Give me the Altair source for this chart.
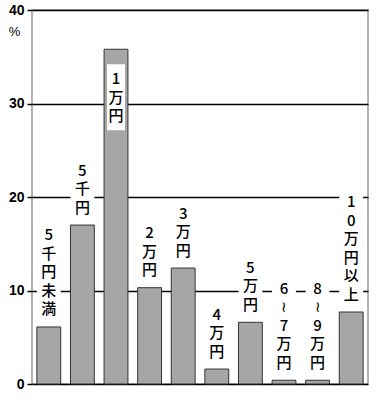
import altair as alt
import pandas as pd

categories = ["5千円未満", "5千円", "1万円", "2万円", "3万円", "4万円", "5万円", "6～7万円", "8～9万円", "10万円以上"]
values = [6.1, 17.0, 35.8, 10.3, 12.4, 1.6, 6.6, 0.4, 0.4, 7.7]
y_ticks = [0, 10, 20, 30, 40]
unit_label = "%"

df = pd.DataFrame({"cat": categories, "value": values})

JP_FONT = "Noto Sans CJK JP"

x_enc = alt.X("cat:N", sort=categories, axis=None,
              scale=alt.Scale(paddingInner=0.29, paddingOuter=0.145))
y_enc = alt.Y("value:Q",
              scale=alt.Scale(domain=[0, 40], nice=False, zero=True),
              axis=alt.Axis(values=y_ticks, grid=True, gridColor="#000", gridWidth=1.5,
                            domain=False, ticks=True, tickColor="#000", tickSize=5, tickWidth=1.5,
                            labelFont="Liberation Sans", labelFontSize=14, labelFontWeight="bold",
                            labelPadding=3, labelColor="#000",
                            title=unit_label, titleAngle=0, titleX=-18, titleY=21,
                            titleAlign="center", titleBaseline="middle",
                            titleFont="Liberation Sans", titleFontSize=13,
                            titleFontWeight="normal", titleColor="#000"))

base = alt.Chart(df).transform_calculate(
    lines="split(replace(datum.cat, '～', '≀'), '')",
    n="length(replace(datum.cat, '～', '≀'))",
    inside="datum.value > 30",
)

bars = base.mark_bar(color="#a6a6a6", stroke="#333", strokeWidth=1).encode(x=x_enc, y=y_enc)

layers = [bars]

LH = 18.5
# labels above bars: white box + stacked characters, one layer pair per label length
for n in sorted(set(len(c) for c in categories)):
    sub = base.transform_filter(f"!datum.inside && datum.n == {n}")
    box = sub.mark_bar(
        color="white", yOffset=-(8 + n * LH + 3), y2Offset=-5
    ).encode(x=x_enc, y=alt.Y("value:Q"), y2="value:Q")
    txt = sub.mark_text(
        baseline="top", dy=-(6 + n * LH), lineHeight=LH, font=JP_FONT, fontSize=15,
        fontWeight=500, color="#000"
    ).encode(x=x_enc, y=alt.Y("value:Q"), text="lines:N")
    layers += [box, txt]

# white box and label inside the tall bar
inside = base.transform_filter("datum.inside")
inbox = inside.mark_bar(
    color="white", width=18, yOffset=15, y2Offset=81
).encode(x=x_enc, y=alt.Y("value:Q"), y2="value:Q")
text_inside = inside.mark_text(
    baseline="top", dy=23, lineHeight=LH, font=JP_FONT, fontSize=15,
    fontWeight=500, color="#000"
).encode(x=x_enc, y=alt.Y("value:Q"), text="lines:N")
layers += [inbox, text_inside]

chart = alt.layer(*layers).properties(
    width=336, height=374,
    autosize=alt.AutoSizeParams(type="none"),
    padding={"left": 32, "top": 10, "right": 10, "bottom": 16},
    background="white",
).configure_view(stroke="#999", strokeWidth=1.5)

chart.save("out.html", embed_options={"renderer": "svg", "actions": False})
